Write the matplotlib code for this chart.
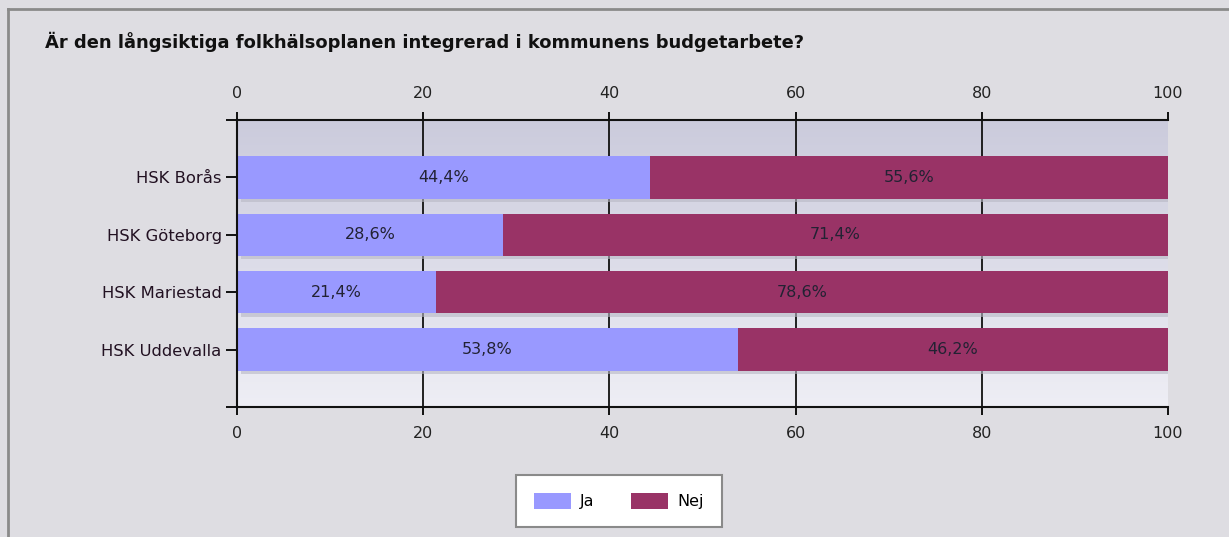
import matplotlib
matplotlib.use("Agg")
import matplotlib.pyplot as plt
import numpy as np
from matplotlib.patches import Rectangle, Patch

title = "Är den långsiktiga folkhälsoplanen integrerad i kommunens budgetarbete?"
categories = ["HSK Borås", "HSK Göteborg", "HSK Mariestad", "HSK Uddevalla"]
ja = [44.4, 28.6, 21.4, 53.8]
nej = [55.6, 71.4, 78.6, 46.2]
series_names = ["Ja", "Nej"]
colors = ["#9999ff", "#993366"]
xticks = [0, 20, 40, 60, 80, 100]

W, H = 1229, 537
fig = plt.figure(figsize=(W / 100, H / 100), dpi=100)
fig.patch.set_facecolor("#dedde2")

# outer border (left and top visible)
fig.add_artist(plt.Line2D([7.5 / W, 7.5 / W], [0, 1 - 9 / H], color="#8a8a8a", lw=2.0, transform=fig.transFigure))
fig.add_artist(plt.Line2D([7.5 / W, 1], [1 - 9 / H, 1 - 9 / H], color="#8a8a8a", lw=2.0, transform=fig.transFigure))

left, right, top, bottom = 237, 1168, 120, 407
ax = fig.add_axes([left / W, 1 - bottom / H, (right - left) / W, (bottom - top) / H])
ax.set_facecolor("none")

# gradient background
grad = np.linspace(0, 1, 256).reshape(-1, 1)
c_top = np.array([0xcb, 0xcb, 0xdc]) / 255
c_bot = np.array([0xee, 0xee, 0xf5]) / 255
img = c_top[None, None, :] * (1 - grad[:, :, None]) + c_bot[None, None, :] * grad[:, :, None]
ax.imshow(img, extent=[0, 1, 0, 1], transform=ax.transAxes, aspect="auto", zorder=0)

y = np.arange(len(categories))
bh = 0.74
# vertical grid
for t in xticks[1:-1]:
    ax.axvline(t, color="#111111", lw=1.3, zorder=1)

# shadows
for yi, total in zip(y, np.array(ja) + np.array(nej)):
    ax.add_patch(Rectangle((0.4, yi - bh / 2 + 0.06), total - 0.4, bh, color="#b8b8c4", alpha=0.6, zorder=1.5, lw=0))

ax.barh(y, ja, height=bh, color=colors[0], zorder=2, label=series_names[0])
ax.barh(y, nej, left=ja, height=bh, color=colors[1], zorder=2, label=series_names[1])

fs = 11.5
for yi, a, b in zip(y, ja, nej):
    ax.text(a / 2, yi, f"{a:.1f}%".replace(".", ","), ha="center", va="center", fontsize=fs, color="#222233", zorder=3)
    ax.text(a + b / 2, yi, f"{b:.1f}%".replace(".", ","), ha="center", va="center", fontsize=fs, color="#222233", zorder=3)

ax.set_xlim(0, 100)
ax.set_ylim(4, -1)
ax.set_yticks([-1, 0, 1, 2, 3, 4])
ax.set_yticklabels([""] + categories + [""], fontsize=11.8, color="#221122")
ax.set_xticks(xticks)
ax.set_xticklabels([str(t) for t in xticks], fontsize=fs, color="#222222")
ax.tick_params(axis="x", top=True, labeltop=True, bottom=True, labelbottom=True, direction="out", length=6, width=1.3, pad=8)
ax.tick_params(axis="y", direction="out", length=8, width=1.3, pad=3)
for s in ["left", "top", "bottom"]:
    ax.spines[s].set_color("#111111")
    ax.spines[s].set_linewidth(1.5)
ax.spines["right"].set_visible(False)

fig.text(45 / W, 1 - 42 / H, title, fontsize=12.9, fontweight="bold", color="#111111", ha="left", va="center")

handles = [Patch(facecolor=colors[0]), Patch(facecolor=colors[1])]
leg = fig.legend(handles, series_names, loc="center", bbox_to_anchor=(619 / W, 1 - 501 / H), ncol=2,
                 frameon=True, fancybox=False, edgecolor="#8a8a8a", facecolor="white", framealpha=1, fontsize=fs,
                 handlelength=2.3, handleheight=1.15, columnspacing=2.3, borderpad=1.1, handletextpad=0.6)
leg.get_frame().set_linewidth(1.5)

fig.savefig("out.png", dpi=100, facecolor=fig.get_facecolor())
